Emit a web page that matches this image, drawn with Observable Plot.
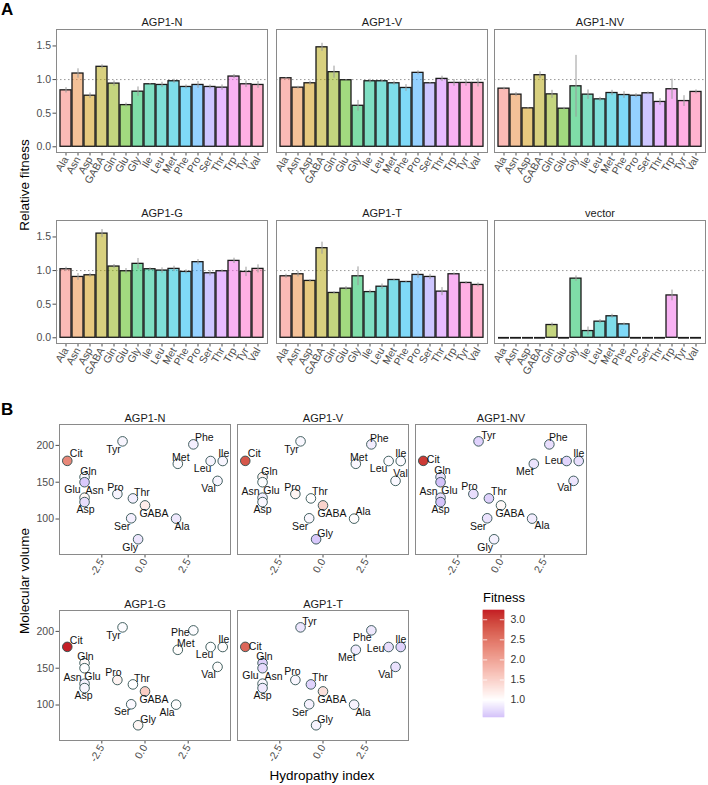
<!DOCTYPE html>
<html><head><meta charset="utf-8">
<script src="https://cdn.jsdelivr.net/npm/d3@7"></script>
<script src="https://cdn.jsdelivr.net/npm/@observablehq/plot@0.6"></script>
<style>
body{margin:0;background:#fff;font-family:"Liberation Sans",Arial,Helvetica,sans-serif;}
#root{position:relative;width:708px;height:785px;overflow:hidden;background:#fff;}
.abs{position:absolute;}
.abs svg{overflow:visible;display:block;}
</style></head><body><div id="root"></div>
<script>
// ---------- Panel A data ----------
const aminoA = ["Ala","Asn","Asp","GABA","Gln","Glu","Gly","Ile","Leu","Met","Phe","Pro","Ser","Thr","Trp","Tyr","Val"];
const constructs = ["AGP1-N","AGP1-V","AGP1-NV","AGP1-G","AGP1-T","vector"];
const meanN  = [0.84,1.09,0.76,1.19,0.94,0.62,0.82,0.93,0.92,0.975,0.89,0.92,0.89,0.88,1.045,0.93,0.92];
const seN    = [0.04,0.07,0.04,0.03,0.04,0.03,0.07,0.01,0.04,0.03,0.03,0.05,0.03,0.04,0.03,0.05,0.05];
const meanV  = [1.02,0.88,0.945,1.48,1.11,0.99,0.61,0.975,0.975,0.945,0.875,1.10,0.945,1.01,0.95,0.95,0.95];
const seV    = [0.01,0.02,0.03,0.06,0.09,0.01,0.08,0.03,0.02,0.03,0.05,0.03,0.01,0.04,0.05,0.05,0.06];
const meanNV = [0.865,0.776,0.572,1.065,0.78,0.567,0.90,0.776,0.706,0.80,0.77,0.76,0.796,0.667,0.856,0.68,0.816];
const seNV   = [0.02,0.03,0.01,0.05,0.06,0.02,0.46,0.07,0.03,0.04,0.05,0.03,0.02,0.05,0.15,0.08,0.03];
const meanG  = [1.02,0.905,0.93,1.55,1.06,0.99,1.10,1.02,1.0,1.025,0.98,1.125,0.96,0.99,1.144,0.98,1.025];
const seG    = [0.03,0.05,0.03,0.06,0.03,0.04,0.08,0.02,0.04,0.04,0.03,0.04,0.04,0.02,0.04,0.07,0.06];
const meanT  = [0.915,0.945,0.846,1.333,0.667,0.731,0.915,0.68,0.76,0.86,0.83,0.935,0.905,0.687,0.945,0.816,0.786];
const seT    = [0.03,0.04,0.02,0.09,0.02,0.03,0.14,0.03,0.04,0.01,0.01,0.05,0.04,0.06,0.02,0.02,0.03];
const meanVec= [0,0,0,0,0.19,0,0.88,0.10,0.24,0.32,0.20,0,0,0,0.63,0,0];
const seVec  = [0,0,0,0,0.03,0,0.04,0.06,0.03,0.03,0.02,0,0,0,0.08,0,0];
const yTicksA = [0,0.5,1,1.5];

// ---------- Panel B data ----------
const aminoB = ["Cit","Ala","Asn","Asp","GABA","Gln","Glu","Gly","Ile","Leu","Met","Phe","Pro","Ser","Thr","Tyr","Val"];
const hydropathy = [-4.5,1.8,-3.5,-3.5,0.0,-3.5,-3.5,-0.4,4.5,3.8,1.9,2.8,-1.6,-0.8,-0.7,-1.3,4.2];
const volume     = [179,100.5,129,123,118.5,157,150,72.5,178.8,178.8,175,201.4,134,101,128,205.5,151.8];
const citFitness = [2.3,2.8,3.05,3.23,2.65]; // AGP1-N, V, NV, G, T
const hydroTicks = [-2.5,0,2.5];
const volumeTicks = [100,150,200];
const legendTicks = [1,1.5,2,2.5,3];

// ---------- styling / layout ----------
const FONT = '"Liberation Sans",Arial,Helvetica,sans-serif';
const huePal = ["#F8766D","#EA8331","#D09400","#B2A100","#89AC00","#45B500","#00BC51","#00C087","#00C0B2","#00BCD6","#00B3F2","#29A3FF","#9C8DFF","#D277FF","#F166E8","#FF61C7","#FF689F"];
const colLeftsA = [56,275.5,494], frameWA = 211, rowTopsA = [29,220], frameHA = 123;
const colLeftsB = [59,237,415], frameWB = 171, rowTopsB = [423.5,609.5], frameHB = 130;
const yDomA = [-0.085,1.745];
const xDomB = [-4.95,4.95], yDomB = [51.8,228.4];
const labelOffsets = {
  "AGP1-N": [[9,-7],[6,8],[10,-7],[1,8],[9,8],[4,-5],[-12,7],[-8,8],[1,-7],[-8,8],[3,-6],[11,-7],[-2,-6],[-9,8],[9,-6],[-9,8],[-9,8]],
  "AGP1-V": [[9,-7],[9,-7],[-12,-6],[0,8],[9,8],[7,-5],[9,8],[9,-6],[0,-7],[-10,8],[3,-6],[8,-6],[-3,-6],[-9,8],[9,-7],[-9,8],[5,-7]],
  "AGP1-NV":[[10,-1],[10,7],[-12,-6],[0,8],[9,8],[2,-6],[9,8],[-9,8],[0,-7],[-13,0],[-9,8],[9,-7],[-4,-7],[-9,8],[10,-7],[10,-6],[-9,7]],
  "AGP1-G": [[9,-6],[-9,8],[-12,-6],[-1,8],[9,8],[1,-6],[8,8],[10,-6],[1,-7],[-6,8],[8,-6],[-13,2],[-4,-7],[-9,7],[9,-6],[-9,8],[-9,8]],
  "AGP1-T": [[10,0],[9,8],[11,-7],[0,8],[9,8],[2,-6],[-12,7],[9,-6],[0,-7],[-13,2],[-9,8],[-9,7],[-3,-8],[-9,8],[9,-7],[9,-6],[-10,8]]
};

const root = document.getElementById("root");
function place(node, left, top, w, h) {
  const d = document.createElement("div");
  d.className = "abs";
  d.style.left = left + "px"; d.style.top = top + "px";
  d.style.width = w + "px"; d.style.height = h + "px";
  d.appendChild(node); root.appendChild(d);
}

// ---------- Panel A ----------
const meansA = [meanN,meanV,meanNV,meanG,meanT,meanVec];
const sesA = [seN,seV,seNV,seG,seT,seVec];
constructs.forEach((name, k) => {
  const col = k % 3, row = Math.floor(k / 3);
  const data = aminoA.map((aa, i) => ({aa, mean: meansA[k][i], se: sesA[k][i]}));
  const ml = 32, mt = 24, mb = 46, mr = 4;
  const W = ml + frameWA + mr, H = mt + frameHA + mb;
  const chart = Plot.plot({
    width: W, height: H, marginLeft: ml, marginTop: mt, marginBottom: mb, marginRight: mr,
    style: {fontFamily: FONT, fontSize: "10.5px", color: "#4d4d4d", background: "transparent", overflow: "visible"},
    x: {type: "band", domain: aminoA, paddingInner: 0.1, paddingOuter: 0.15, tickRotate: -60, tickSize: 3.5, tickPadding: 1.5, label: null},
    y: {domain: yDomA, ticks: yTicksA, tickFormat: d => d.toFixed(1), tickSize: 3.5, tickPadding: 2, label: null, axis: col === 0 ? "left" : null},
    color: {domain: aminoA, range: huePal},
    marks: [
      Plot.ruleY([1], {stroke: "#8c8c8c", strokeDasharray: "1.5,2.5", strokeWidth: 0.9}),
      Plot.barY(data, {x: "aa", y: "mean", fill: "aa", fillOpacity: 0.5, stroke: "#1a1a1a", strokeWidth: 1.3}),
      Plot.tickY(data.filter(d => d.mean === 0), {x: "aa", y: "mean", stroke: "#1a1a1a", strokeWidth: 1.8}),
      Plot.ruleX(data.filter(d => d.se > 0), {x: "aa", y1: d => d.mean - d.se, y2: d => d.mean + d.se, stroke: "#9a9a9a", strokeWidth: 1}),
      Plot.frame({stroke: "#8a8a8a", strokeWidth: 1}),
      Plot.text([name], {text: d => d, frameAnchor: "top", dy: -11, fontSize: 11, fill: "#1a1a1a"})
    ]
  });
  place(chart, colLeftsA[col] - ml, rowTopsA[row] - mt, W, H);
});

// ---------- Panel B ----------
const fitMeansB = [meanN,meanV,meanNV,meanG,meanT];
const fitB = fitMeansB.map((means, k) => aminoB.map(aa => aa === "Cit" ? citFitness[k] : means[aminoA.indexOf(aa)]));
const fitMin = d3.min(fitB.flat()), fitMax = d3.max(fitB.flat());
const colorB = {type: "linear", domain: [fitMin, 1, fitMax], range: ["#d4c2fa", "#ffffff", "#c41f26"], interpolate: "lab"};

constructs.slice(0,5).forEach((name, k) => {
  const col = k % 3, row = Math.floor(k / 3);
  const data = aminoB.map((aa, i) => ({aa, h: hydropathy[i], v: volume[i], f: fitB[k][i]}));
  const ml = 32, mt = 20, mb = 36, mr = 4;
  const W = ml + frameWB + mr, H = mt + frameHB + mb;
  const offs = labelOffsets[name];
  const labels = data.map((d, i) => Plot.text([d], {x: "h", y: "v", text: "aa", dx: offs[i][0], dy: offs[i][1], fontSize: 10.5, fill: "#111"}));
  const chart = Plot.plot({
    width: W, height: H, marginLeft: ml, marginTop: mt, marginBottom: mb, marginRight: mr,
    style: {fontFamily: FONT, fontSize: "10.5px", color: "#4d4d4d", background: "transparent", overflow: "visible"},
    x: {domain: xDomB, ticks: hydroTicks, tickFormat: d => d.toFixed(1), tickRotate: -60, tickSize: 3.5, tickPadding: 1.5, label: null},
    y: {domain: yDomB, ticks: volumeTicks, tickFormat: d => String(d), tickSize: 3.5, tickPadding: 2, label: null, axis: col === 0 ? "left" : null},
    color: colorB,
    marks: [
      Plot.frame({stroke: "#8a8a8a", strokeWidth: 1}),
      Plot.dot(data, {x: "h", y: "v", r: 4.8, fill: "f", stroke: "#2f4f4f", strokeWidth: 0.9}),
      ...labels,
      Plot.text([name], {text: d => d, frameAnchor: "top", dy: -10, fontSize: 11, fill: "#1a1a1a"})
    ]
  });
  place(chart, colLeftsB[col] - ml, rowTopsB[row] - mt, W, H);
});

// ---------- Legend ----------
{
  const n = 107;
  const slices = d3.range(n).map(i => ({y1: fitMin + (fitMax - fitMin) * i / n, y2: fitMin + (fitMax - fitMin) * (i + 1) / n}));
  const W = 21 + 34, H = 107;
  const leg = Plot.plot({
    width: W, height: H, marginLeft: 0, marginRight: 34, marginTop: 0, marginBottom: 0,
    style: {fontFamily: FONT, fontSize: "10.5px", color: "#333", background: "transparent", overflow: "visible"},
    x: {domain: [0, 1], axis: null},
    y: {domain: [fitMin, fitMax], axis: "right", ticks: legendTicks, tickFormat: d => d.toFixed(1), tickSize: 0, tickPadding: 6, label: null},
    color: colorB,
    marks: [
      Plot.rect(slices, {x1: () => 0, x2: () => 1, y1: "y1", y2: "y2", fill: d => (d.y1 + d.y2) / 2, stroke: d => (d.y1 + d.y2) / 2, strokeWidth: 0.6}),
      Plot.ruleY(legendTicks, {x1: () => 0, x2: () => 0.2, stroke: "white", strokeWidth: 0.8}),
      Plot.ruleY(legendTicks, {x1: () => 0.8, x2: () => 1, stroke: "white", strokeWidth: 0.8})
    ]
  });
  place(leg, 483, 610, W, H);
}

// ---------- Titles ----------
const ns = "http://www.w3.org/2000/svg";
const ov = document.createElementNS(ns, "svg");
ov.setAttribute("width", 708); ov.setAttribute("height", 785);
ov.style.position = "absolute"; ov.style.left = "0"; ov.style.top = "0"; ov.style.pointerEvents = "none";
function txt(s, x, y, opts = {}) {
  const t = document.createElementNS(ns, "text");
  t.textContent = s;
  t.setAttribute("x", x); t.setAttribute("y", y);
  t.setAttribute("font-family", FONT);
  t.setAttribute("font-size", opts.size || 13.5);
  if (opts.bold) t.setAttribute("font-weight", "bold");
  if (opts.anchor) t.setAttribute("text-anchor", opts.anchor);
  if (opts.rotate) t.setAttribute("transform", `rotate(${opts.rotate} ${x} ${y})`);
  t.setAttribute("fill", opts.fill || "#000");
  ov.appendChild(t);
}
txt("A", 1, 15, {size: 17, bold: true});
txt("B", 1, 415, {size: 17, bold: true});
txt("Relative fitness", 28.5, 185, {anchor: "middle", rotate: -90});
txt("Molecular volume", 28.5, 581, {anchor: "middle", rotate: -90});
txt("Hydropathy index", 322, 780, {anchor: "middle"});
txt("Fitness", 483, 602, {size: 13});
root.appendChild(ov);
</script>
</body></html>
